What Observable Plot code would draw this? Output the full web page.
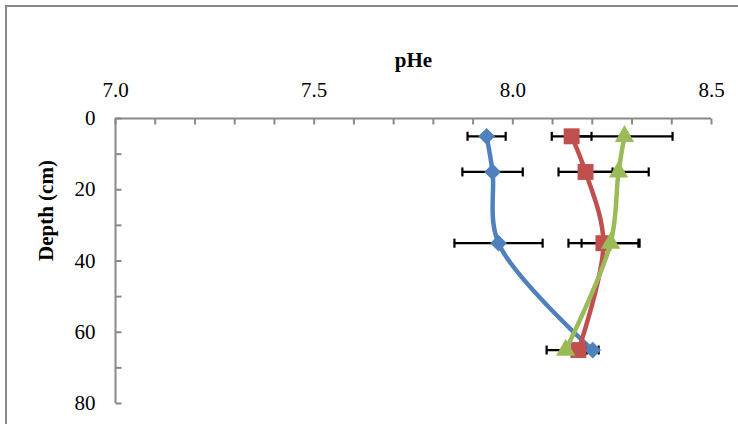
<!DOCTYPE html>
<html>
<head>
<meta charset="utf-8">
<script src="https://cdn.jsdelivr.net/npm/d3@7"></script>
<script src="https://cdn.jsdelivr.net/npm/@observablehq/plot@0.6"></script>
<style>
  html, body { margin: 0; padding: 0; background: #fff; }
  #wrap { position: relative; width: 738px; height: 424px; overflow: hidden; background: #fff; }
  #border { position: absolute; left: 5px; top: 5px; width: 800px; height: 500px; border: 2px solid #898989; box-sizing: border-box; }
  #chart { position: absolute; left: 0; top: 0; }
</style>
</head>
<body>
<div id="wrap"><div id="border"></div><div id="chart"></div></div>
<script>
// Data
const depth = [5, 15, 35, 65];
const bluePH = [7.934, 7.949, 7.964, 8.201];
const blueErr = [0.048, 0.076, 0.111, 0.015];
const redPH = [8.148, 8.183, 8.228, 8.165];
const redErr = [0.050, 0.068, 0.088, 0.030];
const greenPH = [8.281, 8.266, 8.246, 8.133];
const greenErr = [0.121, 0.076, 0.073, 0.048];
const xTickLabels = [7.0, 7.5, 8.0, 8.5];
const yTickLabels = [0, 20, 40, 60, 80];
const xMinorTicks = d3.range(0, 16).map(i => 7 + i * 0.1);
const yMinorTicks = d3.range(0, 9).map(i => i * 10);

const series = [
  {name: "blue", ph: bluePH, err: blueErr, color: "#4F81BD", symbol: "diamond2", r: 7.5},
  {name: "red", ph: redPH, err: redErr, color: "#C0504D", symbol: "square", r: 9},
  {name: "green", ph: greenPH, err: greenErr, color: "#9BBB59", symbol: "triangle", r: 7.2}
];
const rows = series.flatMap(s => depth.map((d, i) => ({series: s.name, depth: d, ph: s.ph[i], err: s.err[i]})));

const vline = {draw(ctx, size) { const h = Math.sqrt(size / Math.PI); ctx.moveTo(0, -h); ctx.lineTo(0, h); }};
const hline = {draw(ctx, size) { const h = Math.sqrt(size / Math.PI); ctx.moveTo(-h, 0); ctx.lineTo(h, 0); }};
const gray = "#898989";

const errMarks = series.flatMap(s => {
  const data = rows.filter(r => r.series === s.name);
  return [
    Plot.ruleY(data, {y: "depth", x1: d => d.ph - d.err, x2: d => d.ph + d.err, stroke: "#000", strokeWidth: 2.2}),
    Plot.dot(data, {x: d => d.ph - d.err, y: "depth", symbol: vline, r: 4.5, stroke: "#000", strokeWidth: 2.2, fill: "none"}),
    Plot.dot(data, {x: d => d.ph + d.err, y: "depth", symbol: vline, r: 4.5, stroke: "#000", strokeWidth: 2.2, fill: "none"})
  ];
});
const seriesMarks = series.flatMap(s => {
  const data = rows.filter(r => r.series === s.name);
  return [
    Plot.line(data, {x: "ph", y: "depth", stroke: s.color, strokeWidth: 4.5, curve: "catmull-rom"}),
    Plot.dot(data, {x: "ph", y: "depth", symbol: s.symbol, r: s.r, fill: s.color, stroke: "none"})
  ];
});

const chart = Plot.plot({
  width: 738,
  height: 424,
  marginLeft: 115,
  marginRight: 27,
  marginTop: 118,
  marginBottom: 21,
  style: {fontFamily: "'Liberation Serif', 'Times New Roman', serif", fontSize: "21px", color: "#000", background: "transparent", overflow: "visible"},
  x: {domain: [7, 8.5]},
  y: {domain: [0, 80], reverse: true},
  marks: [
    Plot.ruleY([0], {stroke: gray, strokeWidth: 2}),
    Plot.ruleX([7], {stroke: gray, strokeWidth: 2}),
    Plot.dot(xMinorTicks, {x: d => d, y: () => 0, symbol: vline, r: 3, dy: 3, stroke: gray, strokeWidth: 2}),
    Plot.dot(yMinorTicks, {x: () => 7, y: d => d, symbol: hline, r: 3, dx: 3, stroke: gray, strokeWidth: 2}),
    Plot.axisX({anchor: "top", ticks: xTickLabels, tickFormat: d => d.toFixed(1), tickSize: 0, tickPadding: 22, label: null, fontSize: 21}),
    Plot.axisY({anchor: "left", ticks: yTickLabels, tickFormat: d => String(d), tickSize: 0, tickPadding: 20, label: null, fontSize: 21}),
    Plot.text(["pHe"], {frameAnchor: "top", dy: -66, text: d => d, fontWeight: "bold", fontSize: 21}),
    Plot.text(["Depth (cm)"], {frameAnchor: "left", dx: -69, rotate: -90, text: d => d, fontWeight: "bold", fontSize: 21}),
    ...errMarks,
    ...seriesMarks
  ]
});
document.getElementById("chart").appendChild(chart);
</script>
</body>
</html>
